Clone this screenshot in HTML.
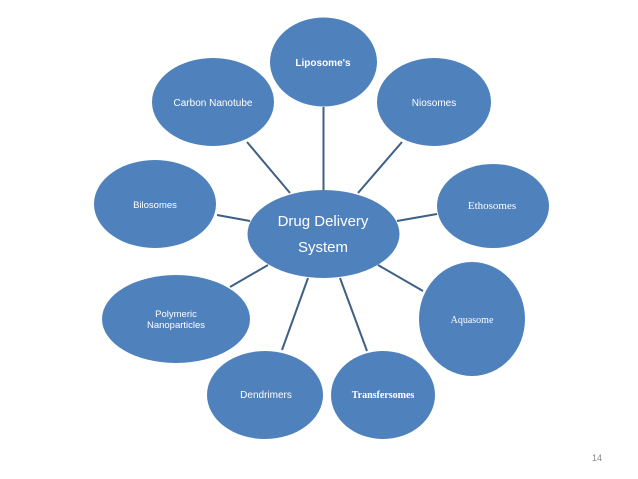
<!DOCTYPE html>
<html><head><meta charset="utf-8"><style>
html,body{margin:0;padding:0;background:#fff;}
svg{display:block;}
.s{font-family:"Liberation Sans",sans-serif;fill:#fff;text-anchor:middle;}
.r{font-family:"Liberation Serif",serif;fill:#fff;text-anchor:middle;}
</style></head><body>
<svg width="638" height="479" viewBox="0 0 638 479" xmlns="http://www.w3.org/2000/svg">
<g stroke="#3e5f86" stroke-width="2">
<line x1="323.5" y1="107" x2="323.5" y2="190"/>
<line x1="247" y1="142" x2="290" y2="193"/>
<line x1="402" y1="142" x2="358" y2="193"/>
<line x1="217" y1="215" x2="250" y2="221"/>
<line x1="437" y1="214" x2="397" y2="221"/>
<line x1="230" y1="287" x2="268" y2="265"/>
<line x1="282" y1="350" x2="308" y2="278"/>
<line x1="367" y1="351" x2="340" y2="278"/>
<line x1="423" y1="291" x2="378" y2="265"/>
</g>
<g fill="#4f81bd">
<ellipse cx="323.5" cy="62" rx="53.5" ry="44.5"/>
<ellipse cx="213" cy="102" rx="61" ry="44"/>
<ellipse cx="434" cy="102" rx="57" ry="44"/>
<ellipse cx="155" cy="204" rx="61" ry="44"/>
<ellipse cx="493" cy="206" rx="56" ry="42"/>
<ellipse cx="323.5" cy="234" rx="76" ry="44"/>
<ellipse cx="176" cy="319" rx="74" ry="44"/>
<ellipse cx="265" cy="395" rx="58" ry="44"/>
<ellipse cx="383" cy="395" rx="52" ry="44"/>
<ellipse cx="472" cy="319" rx="53" ry="57"/>
</g>
<text class="s" x="323" y="66" font-size="10" font-weight="bold">Liposome's</text>
<text class="s" x="213" y="106" font-size="10">Carbon Nanotube</text>
<text class="s" x="434" y="106" font-size="10">Niosomes</text>
<text class="s" x="155" y="208" font-size="9.5">Bilosomes</text>
<text class="r" x="492" y="209" font-size="11">Ethosomes</text>
<text class="s" x="323" y="226" font-size="15">Drug Delivery</text>
<text class="s" x="323" y="252" font-size="15">System</text>
<text class="s" x="176" y="317" font-size="9.5">Polymeric</text>
<text class="s" x="176" y="328" font-size="9.5">Nanoparticles</text>
<text class="r" x="472" y="323" font-size="10">Aquasome</text>
<text class="s" x="266" y="398" font-size="10">Dendrimers</text>
<text class="r" x="383" y="398" font-size="10" font-weight="bold">Transfersomes</text>
<text x="597" y="461" font-family="Liberation Sans,sans-serif" font-size="9" fill="#888" text-anchor="middle">14</text>
</svg>
</body></html>
